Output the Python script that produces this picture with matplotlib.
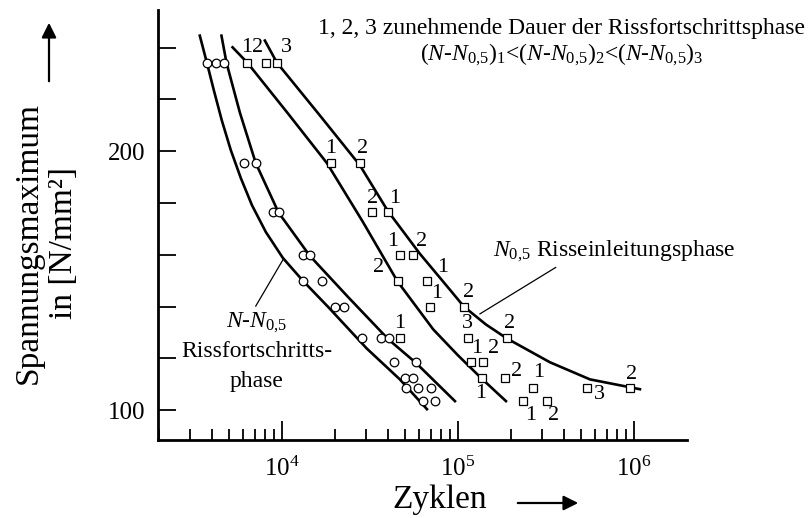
import numpy as np
import matplotlib
matplotlib.use('Agg')
import matplotlib.pyplot as plt
from matplotlib.ticker import FixedLocator, FixedFormatter, NullFormatter

plt.rcParams['font.family'] = 'Liberation Serif'
plt.rcParams['mathtext.fontset'] = 'custom'
plt.rcParams['mathtext.rm'] = 'Liberation Serif'
plt.rcParams['mathtext.it'] = 'Liberation Serif:italic'

###############################################################################
# Data (Zyklen, Spannungsmaximum in N/mm2)

# circles - crack growth phase N-N0,5
circ_N = [3760, 4220, 4700, 6110, 7100, 8860, 9580, 13200, 14400, 13200, 17000,
          20000, 22500, 28400, 36800, 40400, 43500, 57700, 50000, 55700,
          50700, 59000, 70300, 63500, 74000]
circ_S = [234, 234, 234, 195.5, 195.5, 176.5, 176.5, 160, 160, 150, 150,
          140, 140, 128, 128, 128, 118.5, 118.5, 112.5, 112.5,
          108.5, 108.5, 108.5, 103.5, 103.5]

# squares - crack initiation phase N0,5, with their number labels
sq_N = [6380, 8110, 9400, 18900, 27700, 32700, 40200, 46800, 55300, 45400,
        66400, 69300, 46800, 108700, 113500, 118000, 139300, 137500, 184900,
        190600, 268000, 235000, 321000, 538000, 948000]
sq_S = [234, 234, 234, 195.5, 195.5, 176.5, 176.5, 160, 160, 150,
        150, 140, 128, 140, 128, 118.5, 118.5, 112.5, 112.5,
        128, 108.5, 103.5, 103.5, 108.5, 108.5]
sq_lab = ['1', '2', '3', '1', '2', '2', '1', '1', '2', '2',
          '1', '1', '1', '2', '3', '1', '2', '1', '2',
          '2', '1', '1', '2', '3', '2']

# label offsets from the square (pixels, right / up)
sq_off = [(-1, 16), (-8, 16), (9, 16), (0, 14), (3, 14), (0, 14), (6, 14),
          (-7, 13), (9, 13), (-19, 13), (16, 13), (7, 13), (0, 14), (4, 14),
          (0, 14), (6, 14), (10, 14), (-2, -16), (12, 6), (2, 14), (5, 16),
          (7, -14), (6, -14), (13, -6), (2, 14)]

# fitted curves (left to right)
c1_N = [3420, 3750, 4110, 4560, 5130, 5850, 6760, 8110, 10130, 13160, 18240,
        30380, 46800, 66700]
c1_S = [244.6, 234.2, 223.5, 211.9, 200.4, 189.6, 179.2, 168.8, 158.8, 150.0,
        140.0, 123.8, 111.9, 100.4]

c2_N = [4540, 4850, 5770, 7110, 9580, 14420, 23700, 40360, 57700, 96200]
c2_S = [244.6, 234.1, 215.0, 195.4, 176.3, 159.6, 143.8, 127.3, 118.3, 103.5]

c3_N = [5250, 6380, 10820, 18030, 28850, 45400, 72400, 100000, 136500, 187500]
c3_S = [240.1, 234.1, 214.6, 195.4, 172.7, 149.7, 131.2, 121.2, 112.2, 103.5]

c4_N = [8010, 9370, 16440, 27720, 40000, 60800, 90100, 108100, 144200, 189700,
        333300, 562300, 1081000]
c4_S = [242.7, 234.2, 213.8, 194.6, 176.9, 160.4, 146.5, 140.0, 133.1, 127.7,
        118.5, 111.9, 108.1]

x_major = [1e4, 1e5, 1e6]
x_major_lab = ['$10^4$', '$10^5$', '$10^6$']
y_major = [100, 200]
y_minor = [120, 140, 160, 180, 220, 240]

###############################################################################

fig = plt.figure(figsize=(8.1, 5.18), dpi=100)
ax = fig.add_axes([158/810, 1-440/518, (687-158)/810, (440-10)/518])

ax.set_xscale('log')
ax.set_xlim(1980, 2.0e6)
ax.set_ylim(88.5, 254.5)

for s in ['top', 'right']:
    ax.spines[s].set_visible(False)
for s in ['left', 'bottom']:
    ax.spines[s].set_linewidth(2.0)

ax.xaxis.set_major_locator(FixedLocator(x_major))
ax.xaxis.set_major_formatter(FixedFormatter(x_major_lab))
minors = [k*10.0**d for d in (3, 4, 5) for k in range(2, 10)]
ax.xaxis.set_minor_locator(FixedLocator(minors))
ax.xaxis.set_minor_formatter(NullFormatter())

ax.yaxis.set_major_locator(FixedLocator(y_major))
ax.yaxis.set_minor_locator(FixedLocator(y_minor))
ax.yaxis.set_minor_formatter(NullFormatter())

ax.tick_params(axis='x', which='major', direction='in', length=14, width=1.3,
               labelsize=18, pad=12)
ax.tick_params(axis='x', which='minor', direction='in', length=8, width=1.3)
ax.tick_params(axis='y', which='both', direction='in', length=13, width=1.3,
               labelsize=18, pad=9)

# curves
for xs, ys in [(c1_N, c1_S), (c2_N, c2_S), (c3_N, c3_S), (c4_N, c4_S)]:
    ax.plot(xs, ys, color='k', lw=1.9, zorder=2, solid_joinstyle='round')

# points
ax.plot(circ_N, circ_S, 'o', ms=6.2, mfc='white', mec='k', mew=0.9, zorder=3)
ax.plot(sq_N, sq_S, 's', ms=5.6, mfc='white', mec='k', mew=0.9, zorder=3)

for x, y, t, (dx, dy) in zip(sq_N, sq_S, sq_lab, sq_off):
    ax.annotate(t, (x, y), xytext=(dx, dy), textcoords='offset pixels',
                ha='center', va='center', fontsize=16, zorder=4)

# leader lines
ax.plot([7110, 10170], [140.2, 158.2], color='k', lw=0.9)
ax.plot([133400, 359000], [137.2, 155.1], color='k', lw=0.9)

ax.text(7210, 133.8, r'$N$-$N_{0{,}5}$', ha='center', va='center', fontsize=17)
ax.text(7210, 122.7, 'Rissfortschritts-', ha='center', va='center', fontsize=17)
ax.text(7210, 111.2, 'phase', ha='center', va='center', fontsize=17)
ax.text(158000, 161.2, r'$N_{0{,}5}$ Risseinleitungsphase', ha='left',
        va='center', fontsize=17)

ax.text(390000, 247.3, '1, 2, 3 zunehmende Dauer der Rissfortschrittsphase',
        ha='center', va='center', fontsize=17)
ax.text(390000, 237.3,
        r'$(N$-$N_{0{,}5})_1$<$(N$-$N_{0{,}5})_2$<$(N$-$N_{0{,}5})_3$',
        ha='center', va='center', fontsize=17)

# axis titles with arrows
fig.text(46/810, 1-243/518, 'Spannungsmaximum\nin [N/mm²]', rotation=90,
         ha='center', va='center', multialignment='center', fontsize=24)
ax.annotate('', xy=(49, 518-20), xytext=(49, 518-84), xycoords='figure pixels',
            textcoords='figure pixels',
            arrowprops=dict(arrowstyle='-|>', lw=1.6, color='k', mutation_scale=22))

fig.text(440/810, 1-500/518, 'Zyklen', ha='center', va='center', fontsize=24)
ax.annotate('', xy=(581, 518-503), xytext=(515, 518-503), xycoords='figure pixels',
            textcoords='figure pixels',
            arrowprops=dict(arrowstyle='-|>', lw=1.6, color='k', mutation_scale=22))

fig.savefig('out.png', dpi=100)
